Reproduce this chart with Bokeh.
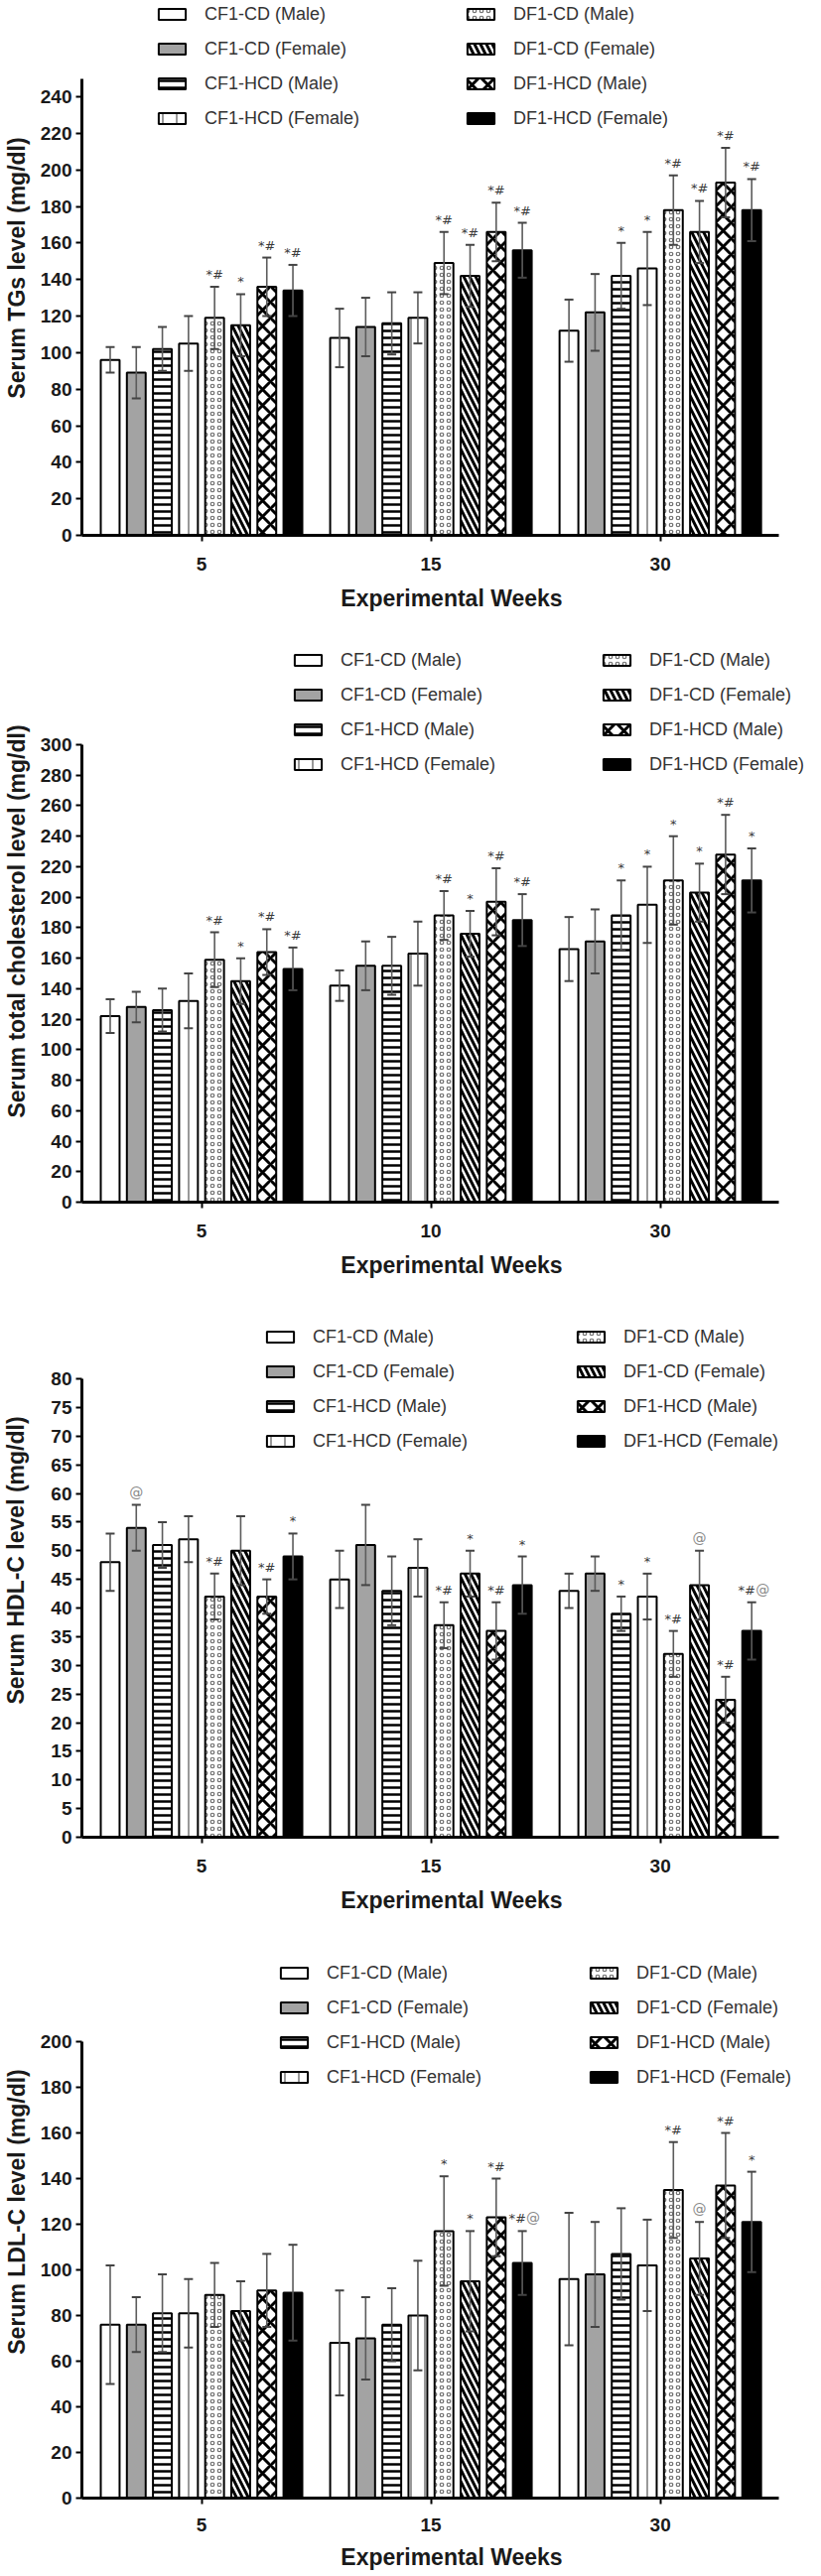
from bokeh.plotting import figure
from bokeh.layouts import column
from bokeh.models import (ColumnDataSource, Range1d, Legend, LegendItem, FixedTicker)
from bokeh.transform import dodge
from bokeh.core.properties import value
from bokeh.embed import file_html
from bokeh.resources import INLINE

# ---------------- data ----------------
groups = ["CF1-CD (Male)", "CF1-CD (Female)", "CF1-HCD (Male)", "CF1-HCD (Female)",
          "DF1-CD (Male)", "DF1-CD (Female)", "DF1-HCD (Male)", "DF1-HCD (Female)"]

weeks_tg = ["5", "15", "30"]
weeks_tc = ["5", "10", "30"]
weeks_hdl = ["5", "15", "30"]
weeks_ldl = ["5", "15", "30"]

# Serum TGs (mg/dl): one row per group, one value per week
tg_mean = [[96, 108, 112], [89, 114, 122], [102, 116, 142], [105, 119, 146],
           [119, 149, 178], [115, 142, 166], [136, 166, 193], [134, 156, 178]]
tg_sd = [[7, 16, 17], [14, 16, 21], [12, 17, 18], [15, 14, 20],
         [17, 17, 19], [17, 17, 17], [16, 16, 19], [14, 15, 17]]
tg_mark = [["", "", ""], ["", "", ""], ["", "", "*"], ["", "", "*"],
           ["*#", "*#", "*#"], ["*", "*#", "*#"], ["*#", "*#", "*#"], ["*#", "*#", "*#"]]

# Serum total cholesterol (mg/dl)
tc_mean = [[122, 142, 166], [128, 155, 171], [126, 155, 188], [132, 163, 195],
           [159, 188, 211], [145, 176, 203], [164, 197, 228], [153, 185, 211]]
tc_sd = [[11, 10, 21], [10, 16, 21], [14, 19, 23], [18, 21, 25],
         [18, 16, 29], [15, 15, 19], [15, 22, 26], [14, 17, 21]]
tc_mark = [["", "", ""], ["", "", ""], ["", "", "*"], ["", "", "*"],
           ["*#", "*#", "*"], ["*", "*", "*"], ["*#", "*#", "*#"], ["*#", "*#", "*"]]

# Serum HDL-C (mg/dl)
hdl_mean = [[48, 45, 43], [54, 51, 46], [51, 43, 39], [52, 47, 42],
            [42, 37, 32], [50, 46, 44], [42, 36, 24], [49, 44, 36]]
hdl_sd = [[5, 5, 3], [4, 7, 3], [4, 6, 3], [4, 5, 4],
          [4, 4, 4], [6, 4, 6], [3, 5, 4], [4, 5, 5]]
hdl_mark = [["", "", ""], ["@", "", ""], ["", "", "*"], ["", "", "*"],
            ["*#", "*#", "*#"], ["", "*", "@"], ["*#", "*#", "*#"], ["*", "*", "*#@"]]

# Serum LDL-C (mg/dl)
ldl_mean = [[76, 68, 96], [76, 70, 98], [81, 76, 107], [81, 80, 102],
            [89, 117, 135], [82, 95, 105], [91, 123, 137], [90, 103, 121]]
ldl_sd = [[26, 23, 29], [12, 18, 23], [17, 16, 20], [15, 24, 20],
          [14, 24, 21], [13, 22, 16], [16, 17, 23], [21, 14, 22]]
ldl_mark = [["", "", ""], ["", "", ""], ["", "", ""], ["", "", ""],
            ["", "*", "*#"], ["", "*", "@"], ["", "*#", "*#"], ["", "*#@", "*"]]

# ---------------- styles / layout ----------------
FONT = "Liberation Sans"
W = 827
FRAME_L = 79          # x of the y axis line
AXIS_END = 784        # x where the x axis line ends
GROUP_C0 = 200        # x of the first week centre
GROUP_PITCH = 232     # px between week centres
BAR_PITCH = 0.1138
BAR_W = 0.082
X0 = -(GROUP_C0 - FRAME_L) / GROUP_PITCH
X1 = X0 + (W - FRAME_L) / GROUP_PITCH
XB = (AXIS_END - GROUP_C0) / GROUP_PITCH

styles = [
    dict(fill_color="white"),
    dict(fill_color="#a3a3a3"),
    dict(fill_color="white", hatch_pattern="horizontal_line", hatch_scale=7,
         hatch_weight=2.5, hatch_color="black"),
    dict(fill_color="white", hatch_pattern="vertical_line", hatch_scale=14,
         hatch_weight=1.2, hatch_color="#555555"),
    dict(fill_color="white", hatch_pattern="ring", hatch_scale=7,
         hatch_weight=1.2, hatch_color="#6e6e6e"),
    dict(fill_color="white", hatch_pattern="left_diagonal_line", hatch_scale=12,
         hatch_weight=3, hatch_color="black"),
    dict(fill_color="white", hatch_pattern="diagonal_cross", hatch_scale=16,
         hatch_weight=3, hatch_color="black"),
    dict(fill_color="black"),
]

LEG_H_ITEM = 22
LEG_SP = 13


def make_panel(weeks, means, sds, marks, ylabel, fig_h, zero_px, top_tick, top_tick_px,
               axis_max, step, leg_row1, leg_lx, leg_rx, ylab_standoff,
               xlab_standoff=16, xaxlab_standoff=12):
    frame_h = zero_px
    ppu = (zero_px - top_tick_px) / top_tick
    y_end = frame_h / ppu
    p = figure(width=W, height=fig_h,
               x_range=Range1d(X0, X1), y_range=Range1d(0, y_end),
               output_backend="svg", toolbar_location=None,
               min_border_left=FRAME_L, min_border_right=0,
               min_border_top=0, min_border_bottom=fig_h - zero_px)
    p.outline_line_color = None
    p.xgrid.grid_line_color = None
    p.ygrid.grid_line_color = None
    p.background_fill_color = "white"

    renderers = []
    for i in range(len(groups)):
        off = (i - 3.5) * BAR_PITCH
        upper = [m + s for m, s in zip(means[i], sds[i])]
        lower = [m - s for m, s in zip(means[i], sds[i])]
        mk = [t.replace("@", "") for t in marks[i]]
        at = ["@" if "@" in t else "" for t in marks[i]]
        mk_dx = [-5 if (a and k) else 0 for a, k in zip(at, mk)]
        at_dx = [11 if (a and k) else 0 for a, k in zip(at, mk)]
        src = ColumnDataSource(dict(xi=list(range(len(weeks))), week=weeks,
                                    mean=means[i], upper=upper, lower=lower,
                                    mk=mk, at=at, mk_dx=mk_dx, at_dx=at_dx))
        xs = dodge("xi", off)
        r = p.vbar(x=xs, top="mean", bottom=0, width=BAR_W, source=src,
                   line_color="black", line_width=2, **styles[i])
        renderers.append(r)
        p.segment(x0=xs, x1=xs, y0="lower", y1="upper", source=src,
                  line_color="#5c5c5c", line_width=1.6)
        p.scatter(x=xs, y="upper", marker="dash", size=9, source=src,
                  line_color="#444444", line_width=2)
        p.scatter(x=xs, y="lower", marker="dash", size=9, source=src,
                  line_color="#444444", line_width=2)
        p.text(x=xs, y="upper", text="mk", source=src, text_align="center",
               text_baseline="bottom", y_offset=-5, x_offset="mk_dx",
               text_font=value("DejaVu Sans"), text_font_size="13px",
               text_color="#3a3a3a")
        p.text(x=xs, y="upper", text="at", source=src, text_align="center",
               text_baseline="bottom", y_offset=-5, x_offset="at_dx",
               text_font=value("DejaVu Sans"), text_font_size="14px",
               text_color="#8a8a8a")

    # axes
    p.yaxis.ticker = FixedTicker(ticks=list(range(0, axis_max + 1, step)))
    p.yaxis.bounds = (0, axis_max)
    p.xaxis.ticker = FixedTicker(ticks=list(range(len(weeks))))
    p.xaxis.major_label_overrides = {k: w for k, w in enumerate(weeks)}
    p.xaxis.bounds = (X0, XB)
    for ax in (p.xaxis, p.yaxis):
        ax.axis_line_width = 3
        ax.axis_line_color = "black"
        ax.major_tick_line_width = 2
        ax.major_tick_in = 0
        ax.major_tick_out = 6
        ax.minor_tick_line_color = None
        ax.major_label_text_font = FONT
        ax.major_label_text_font_style = "bold"
        ax.major_label_text_font_size = "19px"
        ax.major_label_text_color = "#1a1a1a"
        ax.axis_label_text_font = FONT
        ax.axis_label_text_font_style = "bold"
        ax.axis_label_text_font_size = "23px"
        ax.axis_label_text_color = "#1a1a1a"
    p.yaxis.major_label_standoff = 4
    p.yaxis.axis_label = ylabel
    p.yaxis.axis_label_standoff = ylab_standoff
    p.xaxis.axis_label = "Experimental Weeks"
    p.xaxis.major_label_standoff = xlab_standoff
    p.xaxis.axis_label_standoff = xaxlab_standoff

    # legends (two columns of four)
    H = 4 * LEG_H_ITEM + 3 * LEG_SP
    top = leg_row1 - LEG_H_ITEM / 2
    vy = frame_h - top - H
    for lx, rs, names in ((leg_lx, renderers[:4], groups[:4]),
                          (leg_rx, renderers[4:], groups[4:])):
        leg = Legend(items=[LegendItem(label=n, renderers=[r]) for n, r in zip(names, rs)],
                     location=(lx - FRAME_L, vy), orientation="vertical",
                     glyph_width=34, glyph_height=14, label_standoff=16, spacing=LEG_SP,
                     label_height=LEG_H_ITEM, padding=0, margin=0, border_line_color=None,
                     background_fill_alpha=0, label_text_font=FONT,
                     label_text_font_size="18px", label_text_color="#333333")
        p.add_layout(leg)
    return p


p1 = make_panel(weeks_tg, tg_mean, tg_sd, tg_mark, "Serum TGs level (mg/dl)",
                fig_h=645, zero_px=539, top_tick=240, top_tick_px=97, axis_max=250, step=20,
                leg_row1=14, leg_lx=153, leg_rx=464, ylab_standoff=8)
p2 = make_panel(weeks_tc, tc_mean, tc_sd, tc_mark, "Serum total cholesterol level (mg/dl)",
                fig_h=648, zero_px=566, top_tick=300, top_tick_px=105, axis_max=300, step=20,
                leg_row1=20, leg_lx=290, leg_rx=601, ylab_standoff=8)
p3 = make_panel(weeks_hdl, hdl_mean, hdl_sd, hdl_mark, "Serum HDL-C level (mg/dl)",
                fig_h=647, zero_px=558, top_tick=80, top_tick_px=96, axis_max=80, step=5,
                leg_row1=54, leg_lx=262, leg_rx=575, ylab_standoff=19)
p4 = make_panel(weeks_ldl, ldl_mean, ldl_sd, ldl_mark, "Serum LDL-C level (mg/dl)",
                fig_h=656, zero_px=577, top_tick=200, top_tick_px=117, axis_max=200, step=20,
                leg_row1=48, leg_lx=276, leg_rx=588, ylab_standoff=8,
                xlab_standoff=14, xaxlab_standoff=10)

layout = column(p1, p2, p3, p4, spacing=0)
open("out.html", "w").write(file_html(layout, INLINE))
